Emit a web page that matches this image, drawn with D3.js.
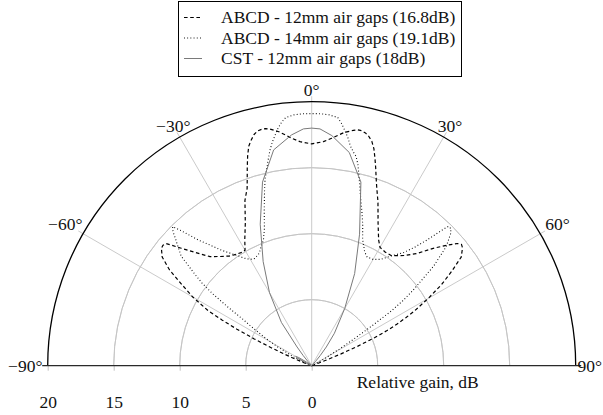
<!DOCTYPE html>
<html>
<head>
<meta charset="utf-8">
<script src="https://cdn.jsdelivr.net/npm/d3@7/dist/d3.min.js"></script>
<style>
  html, body { margin: 0; padding: 0; background: #fff; }
  svg text { font-family: "Liberation Serif", "Times New Roman", Times, "DejaVu Serif", serif; }
</style>
</head>
<body>
<svg id="chart" width="603" height="415"></svg>
<script>
// Radiation patterns: angle (deg) vs relative gain (dB)
const abcd12Angles = [-90, -72, -70, -68, -67, -66, -65, -64, -63, -62, -60, -58, -56, -54, -52, -51, -50, -48, -45, -43, -40, -37, -35, -32, -30, -28, -25, -22, -20, -19, -18, -17, -16, -15, -14, -13, -12, -11, -10, -8, -5, -3, 0,
  3, 5, 8, 10, 11, 12, 13, 14, 15, 16, 17, 18, 19, 20, 22, 25, 28, 30, 33, 36, 40, 43, 46, 48, 50, 51, 52, 54, 56, 58, 60, 62, 63, 64, 65, 66, 67, 68, 69, 70, 72, 90];
const abcd12Gain = [0, 0, 0.3, 1.4, 2.3, 3.4, 4.8, 6.3, 7.6, 8.9, 10.4, 11.6, 13.0, 14.0, 14.45, 14.5, 14.4, 13.3, 12.0, 11.3, 10.8, 10.4, 10.25, 10.1, 10.1, 10.8, 11.9, 13.5, 14.3, 15.0, 15.8, 16.6, 17.3, 17.7, 18.05, 18.25, 18.3, 18.3, 18.2, 17.9, 17.3, 17.0, 16.8,
  17.0, 17.3, 17.85, 18.1, 18.2, 18.2, 18.1, 17.9, 17.6, 17.1, 16.4, 15.7, 15.0, 14.4, 13.4, 11.9, 10.8, 10.35, 10.25, 10.3, 10.9, 11.6, 12.8, 13.6, 14.4, 14.6, 14.5, 14.0, 12.8, 11.6, 10.2, 8.8, 8.0, 7.2, 6.3, 5.2, 3.8, 2.4, 1.2, 0.4, 0, 0];

const abcd14Angles = [-90, -68, -66, -64, -61, -59, -57, -56, -55, -54, -53, -52, -50, -48, -47, -46, -45, -44, -42, -40, -38, -35, -32, -30, -28, -25, -23, -21, -19, -17, -16, -15, -14, -13, -12, -11, -10, -9, -8, -7, -6, -4, -2, 0,
  2, 4, 6, 7, 8, 9, 10, 11, 12, 13, 14, 15, 16, 17, 18, 19, 20, 22, 25, 27, 30, 33, 36, 39, 41, 42.5, 44, 44.5, 45.5, 46.5, 48.5, 50.8, 53.3, 54.5, 55.5, 56.5, 57.5, 59, 61, 64, 90];
const abcd14Gain = [0, 0, 0.6, 1.5, 3.0, 4.2, 5.5, 6.3, 7.8, 9.3, 10.4, 11.2, 12.9, 13.7, 14.1, 14.6, 14.9, 14.2, 12.8, 11.9, 11.1, 10.3, 9.6, 9.3, 9.2, 9.4, 9.8, 10.2, 11.0, 12.3, 13.0, 13.8, 14.6, 15.2, 15.9, 16.6, 17.2, 17.7, 18.2, 18.6, 18.9, 19.05, 19.1, 19.1,
  19.1, 19.05, 18.9, 18.5, 18.0, 17.5, 16.9, 16.5, 16.2, 15.6, 14.8, 14.1, 13.4, 12.8, 12.3, 11.8, 11.3, 10.3, 9.5, 9.25, 9.3, 9.6, 10.3, 11.0, 11.9, 12.9, 14.4, 14.8, 14.8, 14.5, 13.6, 11.9, 9.6, 8.5, 7.3, 5.5, 4.0, 2.5, 1.2, 0.3, 0];

const cstAngles = [-90, -70, -65, -62, -60, -58, -55, -50, -45, -42, -40, -38, -35, -30, -25, -20, -15, -10, -5, -2, 0, 2, 5, 10, 15, 20, 25, 30, 35, 38, 40, 42, 45, 90];
const cstGain = [0, 0, 0.4, 1.2, 1.4, 1.2, 0.5, 0, 0, 0.4, 1.0, 1.8, 4.0, 6.4, 8.7, 11.4, 14.4, 16.6, 17.55, 17.95, 18.0, 17.95, 17.5, 16.4, 14.4, 10.6, 7.7, 5.0, 3.0, 1.8, 1.0, 0.4, 0, 0];

const seriesNames = ["ABCD - 12mm air gaps (16.8dB)", "ABCD - 14mm air gaps (19.1dB)", "CST - 12mm air gaps (18dB)"];

const angleTicks = [-90, -60, -30, 0, 30, 60, 90];
const gridGains = [5, 10, 15];
const gainTicks = [20, 15, 10, 5, 0];
const gainMax = 20;

const FONT = '"Liberation Serif", "Times New Roman", Times, serif';
const W = 603;
const svg = d3.select("#chart");
const cx = 311.7, cy = 365.7, R = 264;
const fs = 17.5;

const r = d3.scaleLinear().domain([0, gainMax]).range([0, R]);
const a = d3.scaleLinear().domain([-90, 90]).range([-Math.PI / 2, Math.PI / 2]);

const g = svg.append("g").attr("transform", `translate(${cx},${cy})`);

// grid circles
const arcGen = d3.arc().startAngle(-Math.PI / 2).endAngle(Math.PI / 2);
g.selectAll("path.grid").data(gridGains).join("path")
  .attr("class", "grid")
  .attr("d", d => arcGen({ innerRadius: r(d), outerRadius: r(d) }))
  .attr("fill", "none").attr("stroke", "#c4c4c4").attr("stroke-width", 0.9);

// spokes with outward ticks
const tickLen = 5.5;
g.selectAll("line.spoke").data(angleTicks.filter(t => Math.abs(t) < 90)).join("line")
  .attr("class", "spoke")
  .attr("x1", 0).attr("y1", 0)
  .attr("x2", d => Math.sin(a(d)) * (R + tickLen))
  .attr("y2", d => -Math.cos(a(d)) * (R + tickLen))
  .attr("stroke", "#c4c4c4").attr("stroke-width", 0.9);

// radial axis (left) ticks below baseline
const rx = d3.scaleLinear().domain([gainMax, 0]).range([-R, 0]);
const axis = d3.axisBottom(rx).tickValues(gainTicks).tickSize(5).tickPadding(24.8).tickFormat(d3.format("d"));
const ax = g.append("g").call(axis);
ax.attr("font-family", FONT).attr("font-size", fs);
ax.select(".domain").remove();
ax.selectAll(".tick line").attr("stroke", "#bbbbbb").attr("stroke-width", 0.9);
ax.selectAll(".tick text").attr("font-family", FONT).attr("font-size", fs).attr("fill", "#111");

// outer boundary
g.append("path")
  .attr("d", arcGen({ innerRadius: R, outerRadius: R }))
  .attr("fill", "none").attr("stroke", "#000").attr("stroke-width", 1.3);
// baseline with end ticks
g.append("line")
  .attr("x1", -R - tickLen).attr("x2", R + tickLen).attr("y1", 0).attr("y2", 0)
  .attr("stroke", "#2a2a2a").attr("stroke-width", 1.3);

// curves
const line = d3.lineRadial()
  .angle(d => a(d[0]))
  .radius(d => r(Math.max(0, d[1])));
const zip = (xs, ys) => xs.map((x, i) => [x, ys[i]]);

const styles = [
  { stroke: "#000", width: 1.2, dash: "3.6,2.6" },
  { stroke: "#000", width: 1.1, dash: "0.9,2.3" },
  { stroke: "#7a7a7a", width: 1.0, dash: null }
];
const data = [zip(abcd12Angles, abcd12Gain), zip(abcd14Angles, abcd14Gain), zip(cstAngles, cstGain)];

g.selectAll("path.series").data(data).join("path")
  .attr("class", "series")
  .attr("d", d => line(d))
  .attr("fill", "none")
  .attr("stroke", (d, i) => styles[i].stroke)
  .attr("stroke-width", (d, i) => styles[i].width)
  .attr("stroke-dasharray", (d, i) => styles[i].dash)
  .attr("stroke-linejoin", "round");

// angle labels, anchored just outside the outer ring (kept inside the page)
const fmtAngle = d => (d < 0 ? "\u2212" + Math.abs(d) : String(d)) + "\u00b0";
angleTicks.forEach(t => {
  const th = a(t);
  const ux = Math.sin(th), uy = -Math.cos(th);
  const txt = g.append("text")
    .attr("font-family", FONT)
    .attr("font-size", fs).attr("fill", "#111")
    .attr("text-anchor", "middle")
    .text(fmtAngle(t));
  const tw = txt.node().getComputedTextLength();
  const w = tw + 6;
  const h = 0.7 * fs + 6;
  const tx = Math.abs(ux) > 1e-6 ? (w / 2) / Math.abs(ux) : Infinity;
  const ty = Math.abs(uy) > 1e-6 ? (h / 2) / Math.abs(uy) : Infinity;
  const d = R + 2.3 + Math.min(tx, ty);
  let x = ux * d;
  const maxX = W - 1 - cx - tw / 2, minX = 1 - cx + tw / 2;
  x = Math.max(minX, Math.min(maxX, x));
  txt.attr("x", x).attr("y", uy * d + 0.35 * fs);
});

// radial axis title
g.append("text")
  .attr("x", 356.7 - cx).attr("y", 388.3 - cy)
  .attr("font-family", FONT)
  .attr("font-size", fs).attr("fill", "#111")
  .text("Relative gain, dB");

// legend
const leg = svg.append("g").attr("transform", "translate(178,1)");
const rowH = 20.5;
leg.append("rect")
  .attr("x", 0.5).attr("y", 0.5).attr("width", 283).attr("height", 75)
  .attr("fill", "#fff").attr("stroke", "#000").attr("stroke-width", 1);
seriesNames.forEach((name, i) => {
  const y = 16.5 + i * rowH;
  leg.append("line")
    .attr("x1", 6).attr("x2", 24).attr("y1", y).attr("y2", y)
    .attr("stroke", styles[i].stroke).attr("stroke-width", styles[i].width)
    .attr("stroke-dasharray", styles[i].dash);
  leg.append("text")
    .attr("x", 43).attr("y", y + 5.8)
    .attr("font-family", FONT)
    .attr("font-size", fs).attr("fill", "#111")
    .text(name);
});
</script>
</body>
</html>
